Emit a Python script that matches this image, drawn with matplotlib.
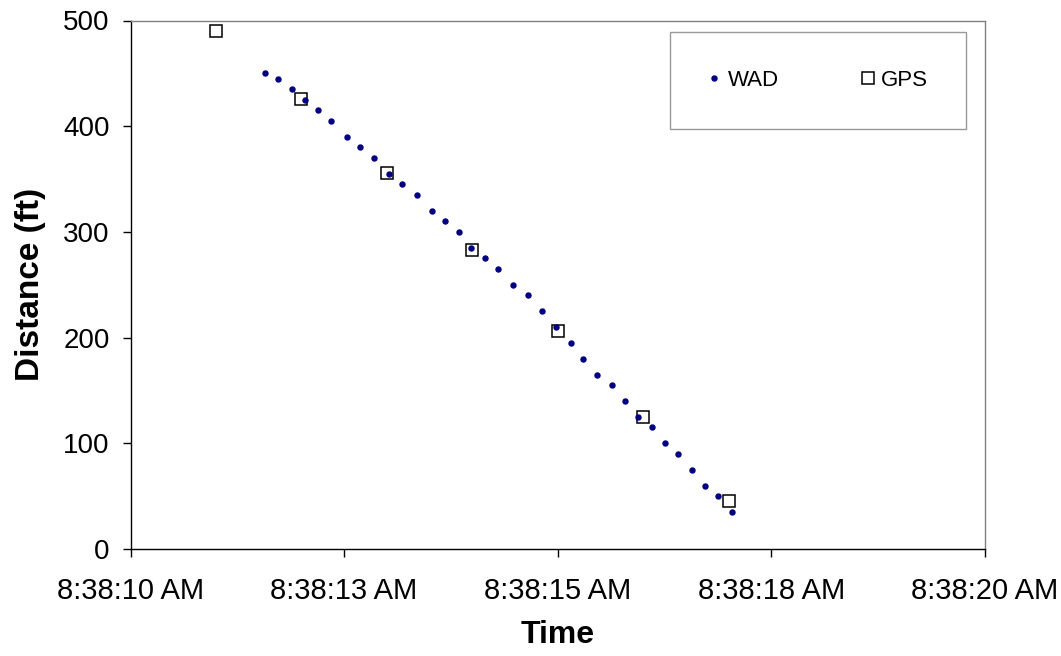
import matplotlib
matplotlib.use("Agg")
import matplotlib.pyplot as plt

plt.rcParams['font.family'] = ['Liberation Sans', 'DejaVu Sans']

# Time in seconds after 8:38:00 AM
wad_t = [11.57, 11.73, 11.89, 12.04, 12.20, 12.35, 12.53, 12.68, 12.85, 13.03,
         13.18, 13.35, 13.53, 13.68, 13.84, 13.99, 14.15, 14.30, 14.48, 14.65,
         14.82, 14.98, 15.15, 15.30, 15.46, 15.63, 15.79, 15.94, 16.10, 16.26,
         16.41, 16.57, 16.72, 16.88, 17.04]
wad_d = [450, 445, 435, 425, 415, 405, 390, 380, 370, 355,
         345, 335, 320, 310, 300, 285, 275, 265, 250, 240,
         225, 210, 195, 180, 165, 155, 140, 125, 115, 100,
         90, 75, 60, 50, 35]

gps_t = [11, 12, 13, 14, 15, 16, 17]
gps_d = [490, 426, 356, 283, 206, 125, 45]

x_ticks = [10, 12.5, 15, 17.5, 20]
x_labels = ['8:38:10 AM', '8:38:13 AM', '8:38:15 AM', '8:38:18 AM', '8:38:20 AM']
y_ticks = [0, 100, 200, 300, 400, 500]

fig = plt.figure(figsize=(10.61, 6.56), dpi=100)
ax = fig.add_axes([130.5/1061, 1-549/656, (985-130.5)/1061, (549-20.5)/656])

ax.plot(wad_t, wad_d, linestyle='none', marker='o', markersize=3.6,
        color='#000080', label='WAD', zorder=3)
ax.plot(gps_t, gps_d, linestyle='none', marker='s', markersize=9,
        markerfacecolor='none', markeredgecolor='black', markeredgewidth=1.1,
        label='GPS', zorder=2)

ax.set_xlim(10, 20)
ax.set_ylim(0, 500)
ax.set_xticks(x_ticks)
ax.set_xticklabels(x_labels)
ax.set_yticks(y_ticks)

ax.tick_params(axis='both', direction='out', length=6, width=1, colors='black')
ax.tick_params(axis='y', pad=9, labelsize=20)
ax.tick_params(axis='x', pad=14, labelsize=21)

for s in ['left', 'bottom']:
    ax.spines[s].set_color('black')
    ax.spines[s].set_linewidth(1)
for s in ['top', 'right']:
    ax.spines[s].set_color('#808080')
    ax.spines[s].set_linewidth(1)

ax.set_xlabel('Time', fontsize=23, fontweight='bold', labelpad=11)
ax.set_ylabel('Distance (ft)', fontsize=24, fontweight='bold', labelpad=12)

leg = ax.legend(ncol=2, loc='upper left', bbox_to_anchor=(670/1061, 1-32/656),
                bbox_transform=fig.transFigure, fontsize=16, frameon=True,
                fancybox=False, edgecolor='#808080', borderpad=1.7,
                handlelength=0.6, handletextpad=0.3, columnspacing=3.7,
                borderaxespad=0)
leg.get_frame().set_linewidth(1)

fig.savefig('out.png', dpi=100, facecolor='white')
